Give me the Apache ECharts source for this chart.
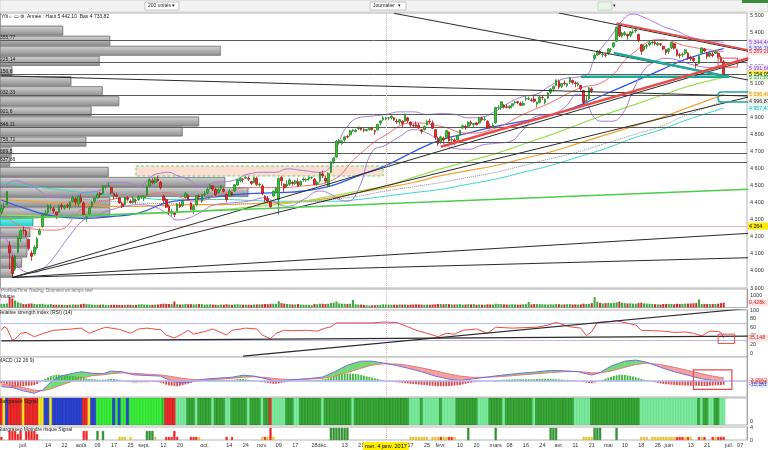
<!DOCTYPE html>
<html><head><meta charset="utf-8">
<script src="https://cdn.jsdelivr.net/npm/echarts/dist/echarts.min.js"></script>
<style>html,body{margin:0;padding:0;background:#fff}#c{width:768px;height:450px}</style>
</head><body><div id="c"></div>
<script>
// ---------- calendar ----------
const holidays = ['2016-12-26','2017-04-14','2017-04-17','2017-05-01'];
const firstDay = '2016-06-21', lastDay = '2017-07-11';
const tickLabels = {'2016-07-01':'juil.','2016-07-14':'14','2016-07-22':'22','2016-08-01':'août','2016-08-09':'09','2016-08-17':'17','2016-08-25':'25','2016-09-01':'sept.','2016-09-12':'12','2016-09-20':'20','2016-10-03':'oct.','2016-10-14':'14','2016-10-24':'24','2016-11-01':'nov.','2016-11-09':'09','2016-11-17':'17','2016-11-28':'28','2016-12-01':'déc.','2016-12-13':'13','2016-12-21':'21','2017-01-04':'mer. 4 janv. 2017','2017-01-17':'17','2017-01-25':'25','2017-02-01':'févr.','2017-02-10':'10','2017-02-20':'20','2017-03-01':'mars','2017-03-08':'08','2017-03-16':'16','2017-03-24':'24','2017-04-03':'avr.','2017-04-11':'11','2017-04-21':'21','2017-05-02':'mai','2017-05-10':'10','2017-05-18':'18','2017-05-26':'26','2017-06-01':'juin','2017-06-13':'13','2017-06-21':'21','2017-07-03':'juil.','2017-07-07':'07'};
const cursorDate = '2017-01-04', cursorPrice = 4264;

// ---------- daily candles (Jun 21 2016 .. Jun 29 2017) ----------
const opens = [
4345,4372,4390,4150,4080,4010,4110,4190,
4240,4235,4185,4105,4100,4135,4215,4260,4330,4345,4370,4365,4345,4345,4385,4370,4385,4375,4410,4425,4395,
4430,4400,4315,4335,4380,4410,4430,4455,4455,4495,4500,4490,4455,4445,4430,4395,4390,4430,4410,4405,4415,4420,4435,
4430,4445,4500,4530,4520,4540,4520,4440,4420,4380,4340,4340,4350,4390,4385,4430,4445,4400,4360,4390,4440,4410,
4450,4460,4485,4500,4480,4460,4485,4480,4450,4440,4460,4470,4505,4530,4540,4545,4545,4525,4520,4545,4505,
4500,4440,4425,4405,4440,4465,4420,4550,4510,4500,4510,4520,4515,4525,4505,4535,4535,4540,4550,4540,4510,4530,
4570,4545,4500,4580,4645,4670,4760,4750,4770,4790,4800,4825,4820,4835,4840,4830,4825,4830,4840,4825,4830,
4870,4890,4895,4900,4900,4900,4880,4875,4880,4880,4900,4875,4855,4860,4855,4830,4830,4860,4880,4870,4830,4780,
4760,4780,4780,4815,4770,4770,4770,4800,4840,4850,4850,4875,4860,4870,4870,4900,4890,4880,4850,4850,
4870,4960,4960,4975,4965,4960,4970,4990,4995,4985,4975,5010,5010,5005,5010,4980,4990,5020,4990,5015,5050,5070,5090,
5115,5085,5105,5090,5110,5120,5105,5095,5090,5060,5000,5010,5070,5250,5270,5290,5270,5270,
5280,5300,5320,5350,5440,5380,5390,5390,5385,5400,5410,5390,5330,5300,5320,5330,5340,5345,5330,5335,5320,5300,
5290,5310,5335,5300,5270,5270,5280,5280,5255,5250,5215,5220,5280,5305,5280,5265,5275,5280,5280,5255,5230];
const highs = [
4390,4400,4470,4175,4095,4095,4200,4245,
4262,4245,4190,4120,4150,4200,4250,4335,4360,4390,4392,4375,4350,4390,4400,4388,4398,4410,4445,4432,4445,
4450,4410,4335,4380,4410,4435,4462,4465,4505,4505,4520,4495,4460,4460,4435,4405,4435,4440,4420,4440,4425,4445,4445,
4445,4500,4545,4545,4550,4560,4530,4450,4430,4390,4365,4345,4400,4405,4410,4465,4450,4405,4390,4445,4450,4450,
4470,4490,4510,4505,4490,4490,4505,4490,4455,4480,4465,4510,4540,4550,4545,4560,4555,4530,4555,4555,4520,
4510,4445,4440,4410,4475,4495,4550,4560,4515,4535,4545,4530,4535,4545,4530,4550,4545,4555,4555,4545,4530,4580,
4590,4560,4580,4645,4670,4770,4775,4770,4795,4800,4830,4835,4835,4850,4845,4840,4835,4845,4845,4830,4865,
4885,4910,4905,4905,4915,4905,4895,4895,4885,4925,4905,4880,4865,4880,4870,4835,4855,4890,4895,4885,4835,4790,
4795,4790,4830,4820,4785,4780,4800,4830,4860,4860,4880,4885,4870,4875,4905,4905,4910,4885,4865,4870,
4965,4975,4995,4980,4980,4975,4985,5000,5000,4995,5000,5030,5025,5015,5035,4995,5035,5030,5015,5050,5075,5090,5125,
5125,5105,5120,5105,5140,5125,5115,5110,5095,5065,5030,5080,5080,5280,5300,5300,5285,5280,
5310,5310,5345,5435,5442,5405,5410,5395,5410,5420,5430,5395,5335,5330,5335,5350,5355,5360,5345,5340,5325,5305,
5310,5345,5340,5305,5280,5285,5305,5285,5265,5260,5225,5270,5315,5310,5285,5290,5285,5300,5290,5265,5240];
const lows = [
4330,4355,4385,4010,3960,4000,4105,4170,
4215,4200,4120,4060,4090,4125,4210,4255,4320,4335,4355,4340,4305,4340,4360,4360,4370,4360,4400,4385,4380,
4400,4320,4290,4330,4370,4400,4425,4430,4450,4480,4495,4450,4420,4430,4395,4370,4385,4410,4395,4395,4395,4410,4425,
4410,4440,4495,4510,4510,4525,4480,4400,4370,4330,4320,4315,4345,4370,4375,4425,4415,4355,4335,4380,4420,4400,
4440,4450,4480,4470,4440,4455,4470,4460,4405,4435,4440,4465,4500,4520,4520,4540,4530,4505,4515,4500,4495,
4445,4405,4405,4370,4435,4455,4330,4500,4465,4490,4500,4500,4505,4495,4500,4525,4525,4530,4540,4505,4500,4520,
4545,4515,4490,4575,4630,4665,4745,4740,4760,4780,4790,4815,4815,4830,4825,4815,4820,4825,4825,4800,4825,
4855,4880,4885,4885,4890,4880,4865,4860,4840,4875,4870,4845,4840,4840,4835,4805,4825,4855,4865,4835,4770,4735,
4745,4750,4775,4760,4750,4740,4765,4795,4835,4830,4840,4855,4845,4855,4865,4880,4880,4835,4835,4845,
4865,4950,4945,4955,4955,4950,4955,4980,4980,4970,4970,5000,5005,4995,4990,4960,4985,5005,4980,5010,5040,5055,5085,
5070,5075,5090,5080,5100,5095,5080,5085,5060,4975,4990,5005,5045,5240,5265,5270,5255,5255,
5270,5285,5310,5345,5375,5370,5380,5360,5375,5395,5400,5345,5270,5290,5305,5320,5330,5325,5320,5320,5295,5270,
5275,5305,5300,5260,5250,5255,5270,5240,5235,5225,5190,5215,5275,5285,5245,5255,5255,5275,5250,5225,5135];
const closes = [
4368,4380,4466,4106,3985,4088,4195,4237,
4236,4210,4133,4086,4139,4190,4236,4330,4339,4385,4372,4352,4330,4380,4379,4381,4383,4406,4432,4404,4440,
4407,4327,4320,4370,4405,4428,4450,4450,4500,4498,4502,4459,4442,4437,4400,4380,4430,4421,4405,4424,4412,4436,4438,
4438,4495,4535,4520,4540,4530,4490,4415,4375,4340,4350,4332,4394,4378,4408,4455,4419,4362,4382,4442,4434,4448,
4453,4480,4505,4481,4449,4478,4496,4468,4420,4470,4449,4507,4536,4544,4537,4550,4539,4515,4548,4509,4509,
4456,4418,4411,4377,4469,4487,4543,4530,4489,4510,4536,4514,4529,4500,4526,4540,4538,4550,4550,4508,4519,4578,
4560,4528,4573,4642,4661,4763,4765,4763,4788,4787,4823,4828,4826,4837,4832,4826,4832,4839,4830,4818,4862,
4882,4900,4899,4900,4910,4888,4876,4889,4867,4922,4883,4859,4853,4850,4840,4821,4850,4879,4875,4839,4785,4749,
4788,4770,4825,4765,4772,4754,4794,4827,4853,4848,4874,4867,4867,4860,4900,4889,4891,4845,4846,4858,
4960,4960,4995,4962,4962,4969,4983,4993,4990,4974,4985,5013,5013,5002,4998,4992,5023,5020,5009,5046,5069,5085,5123,
5080,5102,5101,5100,5135,5107,5101,5102,5071,4990,5000,5077,5059,5268,5289,5278,5274,5267,
5305,5302,5340,5432,5382,5398,5400,5381,5405,5405,5415,5354,5291,5321,5324,5341,5343,5336,5337,5332,5305,5283,
5306,5343,5309,5269,5266,5273,5299,5251,5247,5237,5210,5264,5311,5293,5262,5281,5266,5288,5259,5232,5154];
const volumes = [
300,320,350,900,780,600,450,380,
300,280,330,350,300,280,300,320,260,250,300,230,240,250,230,220,220,240,260,250,260,
280,320,300,280,250,230,240,250,260,230,200,230,240,230,220,220,230,240,230,220,230,260,280,
260,250,230,240,250,260,300,330,320,300,290,520,280,260,270,300,280,290,270,280,300,290,
250,260,270,250,240,230,260,250,280,260,240,270,280,260,250,250,240,230,260,270,280,
280,300,290,320,330,320,550,380,330,300,280,270,260,300,260,250,240,230,200,300,280,330,
320,300,330,380,400,520,350,330,320,310,330,650,280,260,250,220,200,180,190,200,220,
230,270,260,250,240,250,240,260,250,260,230,250,260,270,260,250,240,260,250,260,270,300,
290,280,300,290,270,260,270,280,250,260,280,270,300,240,260,250,240,280,270,260,
330,300,290,270,260,260,280,270,250,260,280,290,480,270,300,290,290,280,270,260,280,270,290,
290,260,270,280,290,260,270,260,280,330,300,310,380,900,500,400,350,380,
400,380,390,450,500,420,380,350,360,340,330,380,420,360,340,330,300,290,280,260,300,310,
320,300,280,320,300,310,330,340,350,360,380,700,300,310,300,290,310,300,330,380,420];

// ---------- moving averages & bands (read at sample days) ----------
const maCats   = [0,10,20,30,40,50,60,70,80,90,100,110,120,130,140,150,160,170,180,190,200,210,220,230,240,250,263];
const maRed    = [4350,4250,4240,4370,4420,4440,4460,4410,4450,4490,4490,4500,4530,4680,4800,4870,4850,4810,4840,4920,4990,5070,5120,5280,5360,5320,5289];
const maBlue   = [4417,4360,4320,4310,4320,4340,4400,4420,4440,4455,4460,4470,4500,4560,4620,4700,4770,4810,4850,4880,4915,4970,5040,5110,5180,5250,5307];
const maLime   = [4330,4325,4320,4320,4330,4335,4340,4350,4360,4375,4390,4410,4440,4470,4500,4550,4600,4645,4690,4745,4800,4860,4920,4975,5030,5085,5138];
const maOrange = [4420,4410,4400,4390,4380,4380,4385,4390,4390,4395,4400,4410,4430,4460,4490,4520,4560,4590,4620,4660,4700,4750,4800,4850,4900,4960,5036];
const maGray   = [4450,4440,4430,4420,4410,4400,4395,4390,4390,4395,4400,4405,4420,4440,4470,4495,4520,4550,4580,4620,4660,4700,4750,4800,4850,4920,4997];
const maCyan   = [4520,4500,4480,4460,4440,4430,4420,4420,4420,4415,4410,4410,4410,4420,4440,4460,4480,4510,4540,4580,4620,4670,4720,4780,4830,4890,4957];
const bbCats  = [0,3,5,8,11,14,17,20,25,30,35,40,45,50,55,58,61,64,68,72,78,84,90,96,100,104,110,116,120,123,126,130,135,140,145,150,155,160,165,170,175,180,185,190,195,200,205,210,213,216,219,222,226,230,234,238,242,246,250,255,259,263];
const bbUpper = [4480,4520,4530,4520,4500,4470,4440,4440,4440,4460,4470,4520,4520,4500,4560,4575,4580,4560,4540,4500,4520,4530,4570,4580,4580,4600,4590,4580,4620,4760,4850,4900,4910,4920,4935,4935,4920,4925,4920,4900,4905,4940,4990,5025,5040,5090,5130,5140,5150,5250,5320,5380,5470,5510,5490,5460,5430,5410,5380,5360,5350,5344];
const bbLower = [4230,4150,4060,4000,3990,4000,4040,4100,4210,4300,4330,4360,4380,4390,4380,4360,4330,4300,4310,4340,4390,4400,4410,4430,4400,4380,4420,4470,4450,4420,4410,4480,4700,4740,4790,4830,4810,4760,4720,4715,4740,4750,4760,4830,4910,4920,4960,5040,4990,4900,4880,4880,4920,5060,5180,5230,5250,5240,5220,5200,5195,5192];

// ---------- volume-at-price profile (rows from 3960 to 5442) ----------
const vpLow = 3960, vpHigh = 5442;
const vpVolumes = [84,147,295,133,16,95,137,159,122,266,244,115,15,13,145,301,332,147,147,44,40,36,36,29,17]; // top row first
const vpCyanRow = 19;

// ---------- horizontal levels ----------
const levels = [5355.77,5225.14,5156.6,5032.33,4921.6,4846.11,4756.71,4689.5,4637.86];

// ---------- trend lines [cat, price] ----------
const blackLines = [
  [[143,5514],[271.5,5122]],
  [[203,5516],[271.5,5291]],
  [[0,5147],[271.5,5028]],
  [[4,3962],[271.5,5022]],
  [[4,3962],[271.5,5240]],
  [[4,3962],[271.5,4221]],
  [[4,3962],[271.5,4078]]
];
const greenLine = [[0,4305],[271.5,4481]];
const redUpper = [[224.2,5457],[271.5,5298]];
const redLower = [[159.7,4730],[271.5,5251]];
const tealDiag = [[222.7,5281],[265.3,5140]];
const tealFlat = [[211,5141],[265,5141]];
const zoneBox = [48.7,4617,139,4558];
const redBoxMain = [260.6,5251,267.9,5198];
const tealBox = [260.6,5052,273.5,4993];

// ---------- RSI ----------
const rsiCats = [0,1,2,4,5,7,9,12,15,19,24,29,32,36,38,43,47,50,53,58,60,63,66,68,70,74,77,82,84,89,93,95,98,100,103,106,111,115,118,120,122,126,131,135,139,144,148,151,155,159,162,165,168,173,177,180,186,190,195,199,202,207,211,213,215,217,222,224,229,231,233,237,241,245,249,252,255,258,261,262,263];
const rsiVals = [53,61,58,30,33,46,48,38,45,53,55,58,46,56,60,55,46,56,58,54,42,35,45,53,44,50,56,42,53,58,56,42,33,46,53,52,53,51,58,61,70,70,70,70,72,71,61,53,46,38,46,44,53,56,46,60,58,59,60,65,71,61,58,40,50,71,73,75,68,65,53,52,51,48,49,46,40,51,50,48,35];
const rsiLines = [[[0,28.6],[271.5,39.5]],[[88,-7],[271.5,103.5]]];
const rsiBox = [261.3,44,266.8,22.5];

// ---------- MACD ----------
const macdCats = [0,4,8,12,15,18,21,25,29,33,37,40,44,48,53,58,61,65,69,74,79,84,88,92,97,100,104,109,113,117,121,126,131,135,139,144,148,153,158,163,167,172,177,182,188,194,200,205,210,215,218,222,227,231,235,240,245,250,255,259,263];
const macdLine = [-26,-30,-45,-56,-41,-5,20,32,42,35,33,45,42,28,25,22,5,-10,-5,8,13,17,26,22,8,-3,3,8,12,18,40,72,90,90,82,70,58,42,22,8,2,10,18,26,34,40,48,46,42,27,38,68,90,95,85,62,42,26,10,2,-3];
const macdSignal = [-15,-20,-30,-42,-45,-36,-22,-5,12,24,28,33,37,35,31,27,22,14,7,5,8,12,17,19,15,10,7,7,9,12,20,38,58,72,78,77,71,60,46,32,22,16,17,20,26,32,38,42,43,37,37,45,62,75,81,75,62,48,33,22,14];
const macdHist = [
-11,-12,-14,-20,-26,-28,-27,-25,
-23,-22,-22,-21,-19,-14,-6,2,9,16,22,26,28,28,27,26,25,24,22,21,20,
19,15,11,9,8,7,6,5,5,6,8,10,9,7,5,2,-1,-3,-5,-7,-7,-6,-6,
-6,-6,-5,-5,-5,-6,-8,-12,-17,-20,-22,-23,-24,-22,-19,-16,-12,-8,-5,-2,1,3,
3,4,4,5,5,5,5,5,5,5,5,6,8,9,9,7,5,3,1,-1,-3,
-5,-7,-9,-11,-13,-13,-11,-8,-6,-4,-2,-1,0,1,1,2,3,3,3,4,5,6,
7,9,12,15,20,24,28,31,33,34,34,33,32,30,27,24,21,18,15,12,9,
6,4,2,0,-2,-4,-6,-7,-9,-10,-11,-13,-14,-15,-16,-18,-19,-20,-21,-22,-23,-24,
-24,-24,-24,-23,-22,-21,-20,-18,-16,-13,-10,-8,-6,-4,-2,-1,0,1,1,2,
3,4,5,6,6,7,7,8,8,8,8,8,8,8,8,9,9,10,10,10,10,9,8,
7,6,5,4,3,2,1,0,-1,-4,-7,-9,-10,-7,-2,1,5,10,
15,19,23,26,28,28,27,25,23,20,17,13,9,6,4,0,-3,-6,-9,-11,-13,-15,
-16,-17,-18,-19,-20,-20,-21,-21,-22,-22,-22,-22,-23,-23,-23,-22,-21,-20,-19,-18,-17];
const macdBox = [252,50,266,-38];

// ---------- signal strips ----------
const stripCodes = ['RY','B','RRRRRYRRRRR','YY','BB','Y','BBBBBBBBBBB','RR','Y','BB','GGGGGG','B','G','B','GG','B','GGGGGGGGGGGG','M','RRRR','LLLL',
 'DDDLDDDDDLDDDDLLDDDDDDLDDDDLDD','R','LLLLL','DDDLLDDDDDDDDLDDDDDDDDDDLDDDDDDDDDD','DDDDDDDDDD','LLLLDLLLLLLDLLLLL','DDDDDDDD','LLLL',
 'DDDDDLDDDDDDDDDDLDDDDDDDDDDDDDD','LLLLLL','DDDDDDDDDDDDDDDDDD','LLLLLLLLLLLLLLLLLLLLL','DLDDLLDDLL'].join('');
const lowSignal = [[0,1,'R'],[3,3,'R'],[4,3,'R'],[5,3,'R'],[6,2,'R'],[7,3,'R'],[9,3,'R'],[10,3,'R'],[11,3,'R'],[12,3,'R'],[13,2,'R'],
 [30,3,'R'],[31,3,'R'],[35,3,'G'],[37,3,'G'],[43,1,'Y'],[44,1,'Y'],[45,1,'Y'],[47,1,'Y'],[53,3,'G'],[54,3,'G'],[55,3,'G'],[56,1,'Y'],
 [60,1,'R'],[61,1,'R'],[62,1,'R'],[63,3,'R'],[64,1,'R'],[69,1,'R'],[70,1,'R'],[71,1,'R'],[72,1,'Y'],[82,1,'R'],[84,1,'R'],
 [95,1,'Y'],[96,1,'R'],[97,1,'Y'],[98,4,'R'],[99,1,'Y'],
 [120,4,'G'],[121,4,'G'],[122,4,'G'],[123,4,'G'],[124,4,'G'],[125,4,'G'],[126,4,'G'],
 [149,1,'Y'],[150,1,'Y'],[151,1,'Y'],[152,1,'Y'],[153,1,'Y'],[154,1,'Y'],[155,1,'Y'],
 [157,1,'Y'],[158,1,'Y'],[159,1,'Y'],[160,1,'R'],[161,1,'Y'],[162,1,'Y'],[163,1,'R'],[164,1,'R'],[165,1,'Y'],
 [170,4,'G'],[180,4,'G'],[200,4,'G'],[201,4,'G'],[202,4,'G'],[212,1,'Y'],[213,1,'Y'],[214,1,'Y'],[215,1,'Y'],
 [216,4,'G'],[217,4,'G'],[218,4,'G'],[224,4,'G'],[233,1,'Y'],[234,1,'Y'],[235,1,'Y'],
 [237,1,'Y'],[238,1,'Y'],[239,1,'Y'],[240,1,'Y'],[241,1,'Y'],[242,1,'Y'],[243,1,'Y'],[244,1,'Y'],[245,1,'Y'],[246,1,'R'],[247,1,'R'],[248,1,'R'],[249,1,'Y'],[250,1,'R'],[251,1,'Y'],
 [254,1,'R'],[255,1,'Y'],[256,1,'R'],[259,1,'R'],[260,1,'Y'],[261,1,'R'],[262,1,'R'],[263,1,'R']];

// ---------- right-hand value tags ----------
const priceTags = [
  [5344.44,'#8a3cc8','#efe4fb'],[5306.76,'#3450e0','#e4eaff'],[5289.28,'#e03030','#ffe4e4'],
  [5191.66,'#8a3cc8','#efe4fb'],[5154.05,'#000000','#ffec00'],[5137.85,'#3aa83a','#e6fbe0'],
  [5036.46,'#e08a00','#fff4d4'],[4996.87,'#333333','#eeeeee'],[4957.47,'#18b0a8','#e0fbf8']];

// ================== build ==================
function buildDays(a, b) {
  const out = []; const d = new Date(a + 'T12:00:00Z'); const e = new Date(b + 'T12:00:00Z');
  while (d <= e) { const w = d.getUTCDay(); const s = d.toISOString().slice(0, 10);
    if (w !== 0 && w !== 6 && holidays.indexOf(s) < 0) out.push(s); d.setUTCDate(d.getUTCDate() + 1); }
  return out;
}
const dates = buildDays(firstDay, lastDay);
function fmtFr(v, dec) {
  const neg = v < 0; const s = Math.abs(v).toFixed(dec); const parts = s.split('.');
  const i = parts[0].replace(/\B(?=(\d{3})+(?!\d))/g, ' ');
  return (neg ? '-' : '') + i + (parts[1] ? ',' + parts[1] : '');
}
const pairs = (cs, vs) => cs.map((c, i) => [c, vs[i]]);
const FONT = 'Liberation Sans';
const N = closes.length;
const UP = '#3cc13c', DOWN = '#e42a2a';

const chart = echarts.init(document.getElementById('c'), null, {renderer: 'canvas'});
const grids = [
  {left: 0, right: 21, top: 13, height: 275},
  {left: 0, right: 21, top: 289, height: 18.5},
  {left: 0, right: 21, top: 310, height: 47},
  {left: 0, right: 21, top: 357, height: 40},
  {left: 0, right: 21, top: 398, height: 27},
  {left: 0, right: 21, top: 427, height: 16}
].map(g => Object.assign(g, {show: true, borderColor: '#b4b4b4', borderWidth: 1, backgroundColor: '#fff'}));

const xAxes = grids.map((g, i) => ({
  type: 'category', gridIndex: i, data: dates, boundaryGap: true,
  axisLine: {show: false}, axisTick: {show: false}, splitLine: {show: false},
  axisLabel: i === 5 ? {
    show: true, fontSize: 5.5, fontFamily: FONT, color: '#333', margin: 2,
    interval: (idx, val) => tickLabels[val] !== undefined,
    formatter: val => val === cursorDate ? '{hl|' + tickLabels[val] + '}' : (tickLabels[val] || ''),
    rich: {hl: {backgroundColor: '#ffee00', color: '#000', fontSize: 5.5, fontFamily: FONT, padding: [1, 2]}}
  } : {show: false}
}));
xAxes.push({type: 'value', gridIndex: 0, min: 0, max: 1000, show: false});

function yAx(i, min, max, extra) {
  return Object.assign({type: 'value', gridIndex: i, position: 'right', min: min, max: max,
    axisLine: {show: true, lineStyle: {color: '#a0a0a0'}}, axisTick: {show: false}, splitLine: {show: false},
    axisLabel: {fontSize: 5.5, fontFamily: FONT, color: '#333', margin: 3}}, extra || {});
}
const yAxes = [
  yAx(0, 3900, 5516, {interval: 100, axisLabel: {fontSize: 5.5, fontFamily: FONT, color: '#333', margin: 3,
    formatter: v => (v % 100 === 0 && v <= 5500) ? fmtFr(v, 0) : ''}}),
  yAx(1, 0, 1600, {interval: 1000, axisLabel: {fontSize: 5.5, fontFamily: FONT, color: '#333', margin: 3,
    formatter: v => v === 1000 ? '1000' : ''}}),
  yAx(2, -9, 100, {axisLabel: {fontSize: 5.5, fontFamily: FONT, color: '#333', margin: 3,
    formatter: v => (v >= 0 && v % 20 === 0) ? String(v) : ''}}),
  yAx(3, -73, 109, {axisLabel: {fontSize: 5.5, fontFamily: FONT, color: '#333', margin: 3,
    formatter: v => (v % 50 === 0) ? String(v) : ''}}),
  yAx(4, -0.18, 1.15, {axisLabel: {fontSize: 5.5, fontFamily: FONT, color: '#333', margin: 3,
    formatter: v => v === 1 ? '1' : (v === 0.5 ? '0,5' : (v === 0 ? '0' : ''))}}),
  yAx(5, 0, 4.3, {axisLabel: {fontSize: 5.5, fontFamily: FONT, color: '#333', margin: 3,
    formatter: v => (v === 0 || v === 4) ? String(v) : ''}})
];

const cursorLine = {silent: true, symbol: ['none', 'none'], label: {show: false}, animation: false,
  lineStyle: {color: '#f0a0a0', width: 1, type: 'dotted'}, data: [{xAxis: cursorDate}]};

const series = [];
// volume-at-price profile
const rowH = (vpHigh - vpLow) / vpVolumes.length;
series.push({
  type: 'custom', xAxisIndex: 6, yAxisIndex: 0, z: 1, silent: true, clip: true,
  encode: {x: 2, y: [0, 1]},
  data: vpVolumes.map((v, k) => [vpHigh - (k + 1) * rowH, vpHigh - k * rowH, v, k === vpCyanRow ? 1 : 0]),
  renderItem: (params, api) => {
    const p1 = api.coord([0, api.value(1)]), p2 = api.coord([api.value(2), api.value(0)]);
    const cyan = api.value(3) === 1;
    return {type: 'rect', shape: {x: p1[0], y: p1[1] + 0.5, width: p2[0] - p1[0], height: p2[1] - p1[1] - 1},
      style: {fill: new echarts.graphic.LinearGradient(0, 0, 0, 1, cyan ?
        [{offset: 0, color: '#7ff0f0'}, {offset: 1, color: '#1cc8c8'}] :
        [{offset: 0, color: '#d4d4d4'}, {offset: 0.5, color: '#b0b0b0'}, {offset: 1, color: '#8e8e8e'}]),
        stroke: cyan ? '#20a0a0' : '#7a7a7a', lineWidth: 0.6}};
  }
});
// candles
series.push({
  type: 'candlestick', xAxisIndex: 0, yAxisIndex: 0, z: 5, barWidth: 2.2,
  data: closes.map((c, i) => [opens[i], c, lows[i], highs[i]]),
  itemStyle: {color: UP, color0: DOWN, borderColor: '#1f8a1f', borderColor0: '#b01818', borderWidth: 0.8},
  markLine: {silent: true, symbol: ['none', 'none'], animation: false,
    lineStyle: {color: '#5a5a5a', width: 1, type: 'solid'},
    label: {show: true, position: 'insideStartTop', distance: [0, 0], fontSize: 5, fontFamily: FONT, color: '#222',
      formatter: p => p.value === cursorPrice ? '' : fmtFr(p.value, String(p.value).split('.')[1] ? String(p.value).split('.')[1].length : 0).slice(2)},
    data: levels.map(v => ({yAxis: v})).concat([
      {yAxis: cursorPrice, lineStyle: {color: '#f4b0b0', width: 1, type: 'solid'}},
      {xAxis: cursorDate, lineStyle: {color: '#f4b0b0', width: 1, type: 'dotted'}, label: {show: false}}])}
});
// zone + boxes (main)
function boxSeries(xi, yi, boxes, z) {
  return {type: 'custom', xAxisIndex: xi, yAxisIndex: yi, z: z || 6, silent: true, clip: false,
    encode: {x: [0, 2], y: [1, 3]}, data: boxes.map(b => b.v),
    renderItem: (params, api) => {
      const b = boxes[params.dataIndex];
      const p1 = api.coord([api.value(0), api.value(1)]), p2 = api.coord([api.value(2), api.value(3)]);
      return {type: 'rect', shape: {x: p1[0], y: p1[1], width: p2[0] - p1[0], height: p2[1] - p1[1], r: b.r || 0},
        style: {fill: b.fill || 'none', stroke: b.stroke, lineWidth: b.w || 1, lineDash: b.dash || null}};
    }};
}
series.push(boxSeries(0, 0, [{v: zoneBox, fill: 'rgba(250,195,175,0.55)', stroke: '#6cd46c', dash: [3, 2], w: 1}], 2));
series.push(boxSeries(0, 0, [{v: redBoxMain, stroke: '#e84848', w: 1}, {v: tealBox, stroke: '#1ea896', w: 1.5, r: 3}], 8));

function lineS(xi, yi, data, color, width, z, extra) {
  return Object.assign({type: 'line', xAxisIndex: xi, yAxisIndex: yi, data: data, showSymbol: false, symbol: 'none',
    silent: true, z: z || 4, lineStyle: {color: color, width: width}, animation: false}, extra || {});
}
// MAs & bands
series.push(lineS(0, 0, pairs(maCats, maCyan), '#3ad6c4', 1, 3, {smooth: true}));
series.push(lineS(0, 0, pairs(maCats, maGray), '#8c8c8c', 1, 3, {smooth: true, lineStyle: {color: '#8c8c8c', width: 1, type: 'dotted'}}));
series.push(lineS(0, 0, pairs(maCats, maOrange), '#f5a030', 1.2, 3, {smooth: true}));
series.push(lineS(0, 0, pairs(maCats, maLime), '#9ee05a', 1.2, 3, {smooth: true}));
series.push(lineS(0, 0, pairs(maCats, maBlue), '#2e58e8', 1.3, 4, {smooth: true}));
series.push(lineS(0, 0, pairs(maCats, maRed), '#f07070', 1, 4, {smooth: true}));
series.push(lineS(0, 0, pairs(bbCats, bbUpper), '#a67ae0', 1, 4, {smooth: true}));
series.push(lineS(0, 0, pairs(bbCats, bbLower), '#a67ae0', 1, 4, {smooth: true}));
// trend lines
blackLines.forEach(l => series.push(lineS(0, 0, l, '#2a2a2a', 1, 6)));
series.push(lineS(0, 0, greenLine, '#4ccc4c', 1.5, 6));
series.push(lineS(0, 0, tealDiag, '#1ea896', 2.5, 7));
series.push(lineS(0, 0, tealFlat, '#1ea896', 2.5, 7));
series.push(lineS(0, 0, redUpper, '#e84a4a', 1.8, 7));
series.push(lineS(0, 0, redLower, '#e84a4a', 2.4, 7));

// volume
series.push({type: 'bar', xAxisIndex: 1, yAxisIndex: 1, barWidth: 2, z: 3, silent: true,
  data: volumes.map((v, i) => ({value: v, itemStyle: {color: closes[i] >= opens[i] ? '#3aa83a' : '#c83030'}})),
  markLine: cursorLine});
// RSI
series.push(lineS(2, 2, pairs(rsiCats, rsiVals), '#ee4a4a', 1, 5, {
  markLine: {silent: true, symbol: ['none', 'none'], label: {show: false}, animation: false,
    data: [{yAxis: 70, lineStyle: {color: '#b9b9f2', width: 1.2, type: 'solid'}},
           {yAxis: 30, lineStyle: {color: '#b9b9f2', width: 1.2, type: 'solid'}},
           {xAxis: cursorDate, lineStyle: {color: '#f4b0b0', width: 1, type: 'dotted'}}]}}));
rsiLines.forEach(l => series.push(lineS(2, 2, l, '#2a2a2a', 1.2, 6)));
series.push(boxSeries(2, 2, [{v: rsiBox, stroke: '#e84848', w: 1}], 8));

// MACD
const fillData = [];
for (let i = 0; i < macdCats.length - 1; i++)
  fillData.push([macdCats[i], macdLine[i], macdSignal[i], macdCats[i + 1], macdLine[i + 1], macdSignal[i + 1]]);
series.push({type: 'custom', xAxisIndex: 3, yAxisIndex: 3, z: 2, silent: true, clip: true,
  encode: {x: [0, 3], y: [1, 2, 4, 5]}, data: fillData,
  renderItem: (params, api) => {
    const c0 = api.value(0), m0 = api.value(1), s0 = api.value(2), c1 = api.value(3), m1 = api.value(4), s1 = api.value(5);
    const pts = [api.coord([c0, m0]), api.coord([c1, m1]), api.coord([c1, s1]), api.coord([c0, s0])];
    const up = (m0 + m1) >= (s0 + s1);
    return {type: 'polygon', shape: {points: pts}, style: {fill: up ? 'rgba(70,205,70,0.75)' : 'rgba(240,120,120,0.7)', stroke: 'none'}};
  }});
series.push({type: 'bar', xAxisIndex: 3, yAxisIndex: 3, barWidth: 1.8, z: 3, silent: true,
  data: macdHist.map(v => ({value: v, itemStyle: {color: v >= 0 ? '#3cb83c' : '#e04848'}})),
  markLine: {silent: true, symbol: ['none', 'none'], label: {show: false}, animation: false,
    data: [{yAxis: 0, lineStyle: {color: '#b4b4f0', width: 1.5, type: 'solid'}},
           {xAxis: cursorDate, lineStyle: {color: '#f4b0b0', width: 1, type: 'dotted'}}]}});
series.push(lineS(3, 3, pairs(macdCats, macdSignal), '#e87a7a', 1, 4));
series.push(lineS(3, 3, pairs(macdCats, macdLine), '#7070e0', 1, 4));
series.push(boxSeries(3, 3, [{v: macdBox, stroke: '#e84848', w: 1.2}], 8));

// signal strip
const stripColors = {R: ['#ee2a2a', '#c81818'], Y: ['#f4e628', '#d8c818'], B: ['#2a44d8', '#1a2ca8'], G: ['#3cf03c', '#22cc22'],
  M: ['#44c044', '#2a9a2a'], D: ['#3aaa3a', '#1f7f1f'], L: ['#80eaa2', '#5cd880']};
series.push({type: 'custom', xAxisIndex: 4, yAxisIndex: 4, z: 3, silent: true, clip: true,
  encode: {x: 0, y: 1},
  data: stripCodes.split('').map((ch, i) => [i, 0.5, ch]),
  renderItem: (params, api) => {
    const c = api.value(0); const ch = stripCodes[params.dataIndex];
    const t = api.coord([c, 1.15]), b = api.coord([c, -0.18]); const w = api.size([1, 0])[0];
    const col = stripColors[ch] || stripColors.D;
    return {type: 'rect', shape: {x: t[0] - w / 2, y: t[1], width: w, height: b[1] - t[1]},
      style: {fill: col[0], stroke: col[1], lineWidth: 0.6}};
  }});
// lower signal
const lowCol = {R: '#ee2222', Y: '#e8c020', G: '#2e9e2e'};
const lowData = dates.map(() => '-');
lowSignal.forEach(e => { lowData[e[0]] = {value: e[1], itemStyle: {color: lowCol[e[2]], borderColor: e[2] === 'G' ? '#1a6e1a' : lowCol[e[2]], borderWidth: 0.4}}; });
series.push({type: 'bar', xAxisIndex: 5, yAxisIndex: 5, barWidth: 2.2, z: 3, silent: true, data: lowData,
  markLine: cursorLine});

chart.setOption({animation: false, backgroundColor: '#fff', grid: grids, xAxis: xAxes, yAxis: yAxes, series: series});

// ---------- overlay: toolbar, titles, value tags ----------
const g = [];
const txt = (x, y, s, o) => ({type: 'text', x: x, y: y, z: 50, style: Object.assign({text: s, fontSize: 5.5, fontFamily: FONT, fill: '#222', textVerticalAlign: 'middle'}, o || {})});
g.push({type: 'rect', shape: {x: 0, y: 0, width: 768, height: 12}, style: {fill: '#f2f2f2', stroke: '#c8c8c8', lineWidth: 0.8}, z: 40});
g.push({type: 'rect', shape: {x: 145, y: 2, width: 34, height: 8}, style: {fill: '#fff', stroke: '#b8b8b8', lineWidth: 0.8}, z: 41});
g.push(txt(148, 6, '200 unités ▾', {fontSize: 5}));
g.push({type: 'rect', shape: {x: 370, y: 2, width: 36, height: 8}, style: {fill: '#fff', stroke: '#b8b8b8', lineWidth: 0.8}, z: 41});
g.push(txt(373, 6, 'Journalier  ▾', {fontSize: 5}));
g.push({type: 'rect', shape: {x: 598, y: 2, width: 14, height: 8}, style: {fill: '#e8f5e8', stroke: '#a0c0a0', lineWidth: 0.6}, z: 41});
g.push(txt(613, 6, '▾', {fontSize: 5}));
g.push({type: 'rect', shape: {x: 742, y: 0, width: 26, height: 3}, style: {fill: '#3a8a3a'}, z: 41});
g.push(txt(1, 17, 'Yfii ⌕ ▭ ⚙  Année : Haut 5 442,10  Bas 4 733,82', {fontSize: 5}));
g.push(txt(1, 291, 'ProRealTime Trading, Données en temps réel', {fontSize: 4.5, fill: '#777', fontStyle: 'italic'}));
g.push(txt(-2, 296.5, 'Volume', {fontSize: 5}));
g.push(txt(-2, 313, 'Relative strength index (RSI) (14)', {fontSize: 5}));
g.push(txt(-2, 361, 'MACD (12 26 9)', {fontSize: 5}));
g.push(txt(-2, 401.5, 'Stargraseo Signal', {fontSize: 5}));
g.push(txt(-2, 430, 'Stargraseo Moindre risque Signal', {fontSize: 5}));
function tag(y, s, col, bg) {
  g.push({type: 'rect', shape: {x: 748, y: y - 3.5, width: 20, height: 7}, style: {fill: bg}, z: 45});
  g.push(txt(749, y, s, {fill: col, fontSize: 5.3}));
}
priceTags.forEach(t => tag(chart.convertToPixel({yAxisIndex: 0}, t[0]), fmtFr(t[0], 2), t[1], t[2]));
tag(chart.convertToPixel({yAxisIndex: 0}, cursorPrice), fmtFr(cursorPrice, 0), '#000', '#ffec00');
tag(chart.convertToPixel({yAxisIndex: 1}, volumes[N - 1]), '0,428k', '#d02020', '#ffe4e4');
tag(chart.convertToPixel({yAxisIndex: 2}, rsiVals[rsiVals.length - 1]), fmtFr(35.148, 3), '#d02020', '#ffe4e4');
tag(chart.convertToPixel({yAxisIndex: 3}, macdSignal[macdSignal.length - 1] - 12), '-3,0562', '#d04040', '#fff0f0');
tag(chart.convertToPixel({yAxisIndex: 3}, macdLine[macdLine.length - 1] - 5), '-5,9123', '#d04040', '#fff0f0');
tag(chart.convertToPixel({yAxisIndex: 3}, -15.281), '-15,281', '#3040d0', '#e8ecff');
chart.setOption({graphic: g});
</script></body></html>
